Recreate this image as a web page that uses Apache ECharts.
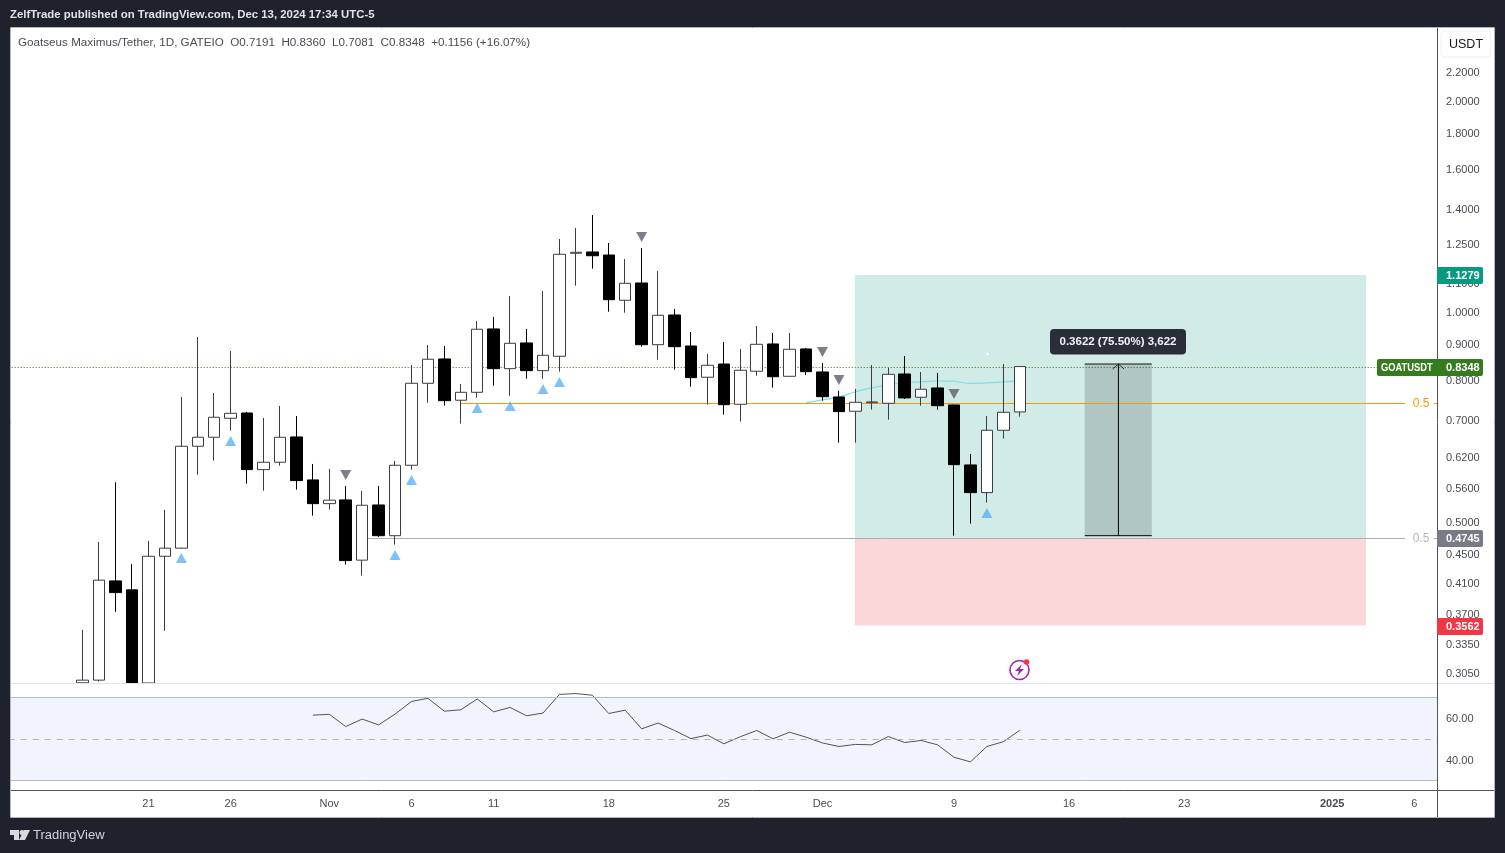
<!DOCTYPE html>
<html><head><meta charset="utf-8">
<style>html,body{margin:0;padding:0;background:#1e222d;overflow:hidden}#c{width:1505px;height:853px}</style>
<script src="https://cdn.jsdelivr.net/npm/echarts@6/dist/echarts.min.js"></script>
</head><body><div id="c"></div>
<script>
// ---------- data ----------
var startDate = '2024-10-13', dayCount = 87, firstCandle = '2024-10-17', firstRsi = '2024-10-31';
var opens = [.2950,.2976,.4125,.4005,.2948,.4473,.4594,.6423,.6616,.7043,.7166,.5948,.6094,.6623,.5750,.5318,.5384,.4416,.5295,.4786,.6034,.7902,.8560,.7473,.7671,.9448,.8291,.9023,.8237,.8636,1.2118,1.2170,1.2050,1.0383,1.0990,.8971,.9892,.8933,.8060,.8419,.7374,.8221,.8993,.8085,.8846,.8202,.7554,.7207,.7413,.7399,.8148,.7547,.7781,.7358,.6040,.5515,.6770,.7191];
var highs = [.3511,.4689,.5706,.4362,.4704,.5210,.7554,.9202,.7654,.8788,.7190,.7050,.7334,.7096,.6060,.5962,.5637,.5546,.5637,.6121,.8392,.8962,.8933,.7884,.9700,.9828,1.0530,.9448,1.0706,1.2702,1.3170,1.3744,1.2535,1.1894,1.2332,1.1434,1.0090,.9355,.8703,.9052,.8846,.9540,.9323,.9323,.8875,.8449,.7705,.7755,.8392,.8310,.8644,.8202,.8175,.7358,.6262,.7096,.8419,.8360];
var lows = [.2948,.2962,.3725,.2948,.2948,.3500,.4583,.5850,.6127,.6761,.5680,.5551,.6026,.5570,.5112,.5215,.4352,.4197,.4767,.4647,.5948,.7413,.7340,.6919,.7537,.7839,.7585,.8023,.8015,.8210,1.0891,1.1520,1.0000,.9967,.8913,.8540,.8264,.7813,.7364,.7127,.6965,.8101,.7789,.8074,.8120,.7463,.6500,.6500,.7245,.7011,.7505,.7340,.7245,.4786,.4980,.5336,.6586,.7081];
var closes = [.2976,.4135,.3969,.2948,.4473,.4594,.6423,.6616,.7066,.7159,.5948,.6094,.6616,.5737,.5318,.5379,.4410,.5290,.4786,.6034,.7902,.8552,.7463,.7671,.9439,.8291,.9013,.8237,.8664,1.2078,1.2158,1.2021,1.0403,1.0979,.8971,.9882,.8913,.8050,.8384,.7364,.8248,.8983,.8074,.8837,.8210,.7560,.7198,.7423,.7431,.8139,.7530,.7748,.7340,.6046,.5515,.6770,.7183,.8348];
var rsiValues = [61.4,61.8,55.9,59.5,56.7,61.9,68.0,69.5,63.3,64.0,69.2,63.0,65.1,61.1,62.4,71.4,71.8,71.0,62.2,63.8,54.8,57.6,54.0,50.1,51.8,47.6,51.0,54.0,50.0,53.2,50.8,48.0,46.3,47.3,47.1,51.1,48.2,49.2,47.1,41.1,38.9,46.3,48.6,54.1];
var maDates = ['2024-11-30','2024-12-01','2024-12-02','2024-12-03','2024-12-04','2024-12-05','2024-12-06','2024-12-07','2024-12-08','2024-12-09','2024-12-10','2024-12-11','2024-12-12','2024-12-13'];
var maValues = [.7413,.7480,.7554,.7680,.7781,.7862,.7916,.7937,.7963,.7950,.7898,.7910,.7937,.7963];
var buyDates = ['2024-10-23','2024-10-26','2024-11-05','2024-11-06','2024-11-10','2024-11-12','2024-11-14','2024-11-15','2024-12-11'];
var buyPrices = [.4449,.6536,.4493,.5750,.7286,.7334,.7755,.7937,.5159];
var sellDates = ['2024-11-02','2024-11-20','2024-12-01','2024-12-02','2024-12-09'];
var sellPrices = [.5845,1.2785,.8759,.7989,.7628];
var priceTicks = [2.2,2.0,1.8,1.6,1.4,1.25,1.1,1.0,.9,.8,.7,.62,.56,.5,.45,.41,.37,.335,.305];
var rsiTicks = [40,60];
var dateTicks = {'2024-10-21':'21','2024-10-26':'26','2024-11-01':'Nov','2024-11-06':'6','2024-11-11':'11','2024-11-18':'18','2024-11-25':'25','2024-12-01':'Dec','2024-12-09':'9','2024-12-16':'16','2024-12-23':'23','2025-01-01':'2025','2025-01-06':'6'};
var lastPrice = .8348, targetPrice = 1.1279, entryPrice = .4745, stopPrice = .3562;
var lastLine = .8323, orangeLevel = .7393, grayLevel = .4742;
var measureLow = .4786, measureHigh = .8419, arrowBase = .8281;
// ---------- derived ----------
var dates = [];
(function(){var t=Date.UTC(2024,9,13);for(var i=0;i<dayCount;i++){dates.push(new Date(t+i*864e5).toISOString().slice(0,10));}})();
function idx(d){return dates.indexOf(d);}
var candleData = dates.map(function(d){
  var i = idx(d)-idx(firstCandle);
  return (i>=0&&i<opens.length)?[opens[i],closes[i],lows[i],highs[i]]:['-','-','-','-'];
});
var rsiData = dates.map(function(d){var i=idx(d)-idx(firstRsi);return (i>=0&&i<rsiValues.length)?rsiValues[i]:'-';});
var maData = maDates.map(function(d,i){return [d,maValues[i]];});
var buyData = buyDates.map(function(d,i){return [d,buyPrices[i]];});
var sellData = sellDates.map(function(d,i){return [d,sellPrices[i]];});

var FONT = '"Liberation Sans",Arial,sans-serif';
var AX = '#4a4c55';
var richTick = {a:{fontFamily:FONT,fontSize:11,color:AX,padding:[2,0,0,0]}};
function lvl(name,pts,color,type,z){
  return {name:name,type:'line',xAxisIndex:1,yAxisIndex:0,data:pts,symbol:'none',silent:true,z:z||1,connectNulls:false,
    lineStyle:{color:color,width:1,type:type||'solid'},animation:false};
}
function tag(x,y,w,h,fill,txt,tx){
  return [{type:'rect',z:60,shape:{x:x,y:y,width:w,height:h,r:[2,2,2,2]},style:{fill:fill}},
          {type:'text',z:61,style:{x:tx,y:y+h/2+.5,text:txt,fill:'#fff',font:'bold 11px '+FONT,textVerticalAlign:'middle'}}];
}
var gfx = [
  // frame
  {type:'rect',z:50,shape:{x:0,y:0,width:10,height:853},style:{fill:'#1e222d'}},
  {type:'rect',z:51,shape:{x:10.5,y:27.5,width:1484,height:790},style:{fill:'none',stroke:'#b2b5be',lineWidth:1}},
  {type:'rect',z:50,shape:{x:1438,y:690,width:3,height:95},style:{fill:'#fff'}},
  {type:'line',z:52,shape:{x1:11,y1:683.5,x2:1494,y2:683.5},style:{stroke:'#e0e3eb',lineWidth:1}},
  {type:'line',z:52,shape:{x1:11,y1:790.5,x2:1494,y2:790.5},style:{stroke:'#50535e',lineWidth:1}},
  {type:'line',z:52,shape:{x1:1437.5,y1:28,x2:1437.5,y2:817},style:{stroke:'#50535e',lineWidth:1}},
  {type:'text',z:60,style:{x:10,y:15,text:'ZelfTrade published on TradingView.com, Dec 13, 2024 17:34 UTC-5',fill:'#dfe1e6',font:'bold 11.4px '+FONT,textVerticalAlign:'middle'}},
  {type:'text',z:60,style:{x:18,y:42.5,text:'Goatseus Maximus/Tether, 1D, GATEIO  O0.7191  H0.8360  L0.7081  C0.8348  +0.1156 (+16.07%)',fill:'#4a4c55',font:'11.66px '+FONT,textVerticalAlign:'middle'}},
  {type:'rect',z:60,shape:{x:1441,y:31,width:50,height:26,r:4},style:{fill:'#fff',stroke:'#eef0f5',lineWidth:1}},
  {type:'text',z:61,style:{x:1466,y:44.5,text:'USDT',fill:'#131722',font:'12.5px '+FONT,textAlign:'center',textVerticalAlign:'middle'}},
  // measure label
  {type:'rect',z:60,shape:{x:1050,y:329,width:136,height:25.5,r:4},style:{fill:'#2a2e39'}},
  {type:'text',z:61,style:{x:1118,y:341.5,text:'0.3622 (75.50%) 3,622',fill:'#f0f3fa',font:'bold 11.5px '+FONT,textAlign:'center',textVerticalAlign:'middle'}},
  // level labels
  {type:'text',z:60,style:{x:1421,y:403.5,text:'0.5',fill:'#ff9800',font:'12px '+FONT,textAlign:'center',textVerticalAlign:'middle'}},
  {type:'text',z:60,style:{x:1421,y:538.5,text:'0.5',fill:'#b2b5be',font:'12px '+FONT,textAlign:'center',textVerticalAlign:'middle'}},
  // alert icon
  {type:'circle',z:60,shape:{cx:1019.5,cy:670,r:9.5},style:{fill:'#fff',stroke:'#9c27b0',lineWidth:1.6}},
  {type:'polygon',z:61,shape:{points:[[1022,664],[1015,671],[1019,671],[1017,676],[1024,669],[1020,669]]},style:{fill:'#9c27b0'}},
  {type:'circle',z:62,shape:{cx:1026.5,cy:662,r:2.8},style:{fill:'#f23645'}},
  {type:'circle',z:40,shape:{cx:987.5,cy:354,r:1.2},style:{fill:'#fff'}},
  // footer logo
  {type:'polygon',z:60,shape:{points:[[10,830],[19,830],[19,840],[14,840],[14,835],[10,835]]},style:{fill:'#d8dae0'}},
  {type:'circle',z:60,shape:{cx:22,cy:832.5,r:2.5},style:{fill:'#d8dae0'}},
  {type:'polygon',z:60,shape:{points:[[24,830],[30,830],[25,840],[19,840]]},style:{fill:'#d8dae0'}},
  {type:'text',z:60,style:{x:33,y:835.5,text:'TradingView',fill:'#d1d4dc',font:'13px '+FONT,textVerticalAlign:'middle'}}
].concat(
  tag(1437,267,46,17,'#089981',targetPrice.toFixed(4),1446),
  [{type:'rect',z:60,shape:{x:1377,y:359,width:106,height:17,r:[2,2,2,2]},style:{fill:'#377b1f'}},
   {type:'text',z:61,originX:1381,originY:368,scaleX:.85,style:{x:1381,y:368,text:'GOATUSDT',fill:'#fff',font:'bold 11px '+FONT,textVerticalAlign:'middle'}},
   {type:'text',z:61,style:{x:1446,y:368,text:lastPrice.toFixed(4),fill:'#fff',font:'bold 11px '+FONT,textVerticalAlign:'middle'}}],
  tag(1437,530,46,17,'#787b86',entryPrice.toFixed(4),1446),
  tag(1437,618,46,17,'#f23645',stopPrice.toFixed(4),1446)
);

var chart = echarts.init(document.getElementById('c'),null,{renderer:'canvas'});
chart.setOption({
  animation:false,
  backgroundColor:'transparent',
  tooltip:{show:false},
  graphic:{elements:[{type:'rect',silent:true,z:-100,shape:{x:11,y:28,width:1483,height:789},style:{fill:'#fff'}}].concat(gfx)},
  grid:[{left:8.7,top:27,width:1430.3,height:656},{left:8.7,top:683,width:1430.3,height:107}],
  xAxis:[
    {type:'category',gridIndex:0,data:dates,boundaryGap:true,show:false},
    {type:'value',gridIndex:0,min:-0.5,max:86.5,show:false,splitLine:{show:false}},
    {type:'category',gridIndex:1,data:dates,boundaryGap:true,axisLine:{show:false},axisTick:{show:false},splitLine:{show:false},
      axisLabel:{margin:8,fontFamily:FONT,fontSize:11,color:AX,
        interval:function(i,v){return dateTicks[v]!=null;},
        formatter:function(v){var t=dateTicks[v];return t==='2025'?'{b|2025}':t;},
        rich:{b:{fontWeight:'bold',fontFamily:FONT,fontSize:11,color:AX}}}}
  ],
  yAxis:[
    {type:'log',logBase:10,gridIndex:0,position:'right',offset:-2,min:.2948,max:2.551,axisLine:{show:false},axisTick:{show:false},splitLine:{show:false},minorSplitLine:{show:false},
      axisLabel:{customValues:priceTicks,margin:9,color:AX,rich:richTick,formatter:function(v){return '{a|'+(+v).toFixed(4)+'}';}}},
    {type:'value',gridIndex:1,position:'right',offset:-2,min:25.33,max:76.89,axisLine:{show:false},axisTick:{show:false},splitLine:{show:false},
      axisLabel:{customValues:rsiTicks,margin:9,color:AX,rich:richTick,formatter:function(v){return '{a|'+(+v).toFixed(2)+'}';}}}
  ],
  series:[
    lvl('Last price',[[-0.5,lastLine],[82.73,lastLine]],'#3a6e20',[1,2],1),
    lvl('Level orange',[[27,orangeLevel],[84.43,orangeLevel],['-','-'],[86.17,orangeLevel],[86.47,orangeLevel]],'#ff9800','solid',1),
    lvl('Level gray',[[21,grayLevel],[84.43,grayLevel],['-','-'],[86.17,grayLevel],[86.47,grayLevel]],'#a9abb6','solid',1),
    {name:'Position',type:'line',xAxisIndex:1,yAxisIndex:0,data:[[51,targetPrice]],symbol:'none',silent:true,z:2,
      markArea:{silent:true,data:[
        [{xAxis:50.97,yAxis:targetPrice,itemStyle:{color:'rgba(8,153,129,0.19)'}},{xAxis:82.06,yAxis:entryPrice}],
        [{xAxis:50.97,yAxis:entryPrice,itemStyle:{color:'rgba(242,54,69,0.2)'}},{xAxis:82.06,yAxis:stopPrice}]
      ]}},
    {name:'Measure',type:'line',xAxisIndex:1,yAxisIndex:0,data:[[65,measureHigh]],symbol:'none',silent:true,z:3,
      markArea:{silent:true,itemStyle:{color:'rgba(0,0,0,0.16)'},data:[[{xAxis:64.95,yAxis:measureHigh},{xAxis:69.03,yAxis:measureLow}]]}},
    lvl('Measure top',[[64.95,measureHigh],[69.03,measureHigh]],'#131722','solid',3),
    lvl('Measure bottom',[[64.95,measureLow],[69.03,measureLow]],'#000','solid',3),
    lvl('Measure arrow',[[67,measureLow],[67,measureHigh]],'#000','solid',3),
    lvl('Arrow head',[[66.65,arrowBase],[67,measureHigh],[67.35,arrowBase]],'#333','solid',3),
    {name:'MA',type:'line',xAxisIndex:0,yAxisIndex:0,data:maData,smooth:true,symbol:'none',silent:true,z:3,lineStyle:{color:'#7fdde8',width:1.2}},
    {name:'GOATUSDT',type:'candlestick',xAxisIndex:0,yAxisIndex:0,data:candleData,barWidth:12,clip:true,silent:true,z:5,
      itemStyle:{color:'#ffffff',color0:'#000000',borderColor:'#3a3c46',borderColor0:'#000000',borderWidth:1}},
    {name:'Buy',type:'scatter',xAxisIndex:0,yAxisIndex:0,data:buyData,symbol:'triangle',symbolSize:[11,10],silent:true,z:6,itemStyle:{color:'#5cb2f7'}},
    {name:'Sell',type:'scatter',xAxisIndex:0,yAxisIndex:0,data:sellData,symbol:'triangle',symbolRotate:180,symbolSize:[11,10],silent:true,z:6,itemStyle:{color:'#5d606b'}},
    {name:'RSI',type:'line',xAxisIndex:2,yAxisIndex:1,data:rsiData,symbol:'none',silent:true,z:4,connectNulls:false,lineStyle:{color:'#50535e',width:1},
      markArea:{silent:true,itemStyle:{color:'#f0f5fd'},data:[[{yAxis:70},{yAxis:30}]]},
      markLine:{silent:true,symbol:'none',label:{show:false},animation:false,data:[
        {yAxis:70,lineStyle:{color:'#b8bbc6',type:'solid',width:1}},
        {yAxis:30,lineStyle:{color:'#b8bbc6',type:'solid',width:1}},
        {yAxis:50,lineStyle:{color:'#b2b5be',type:[6,6],width:1}}]}}
  ]
});
</script></body></html>
